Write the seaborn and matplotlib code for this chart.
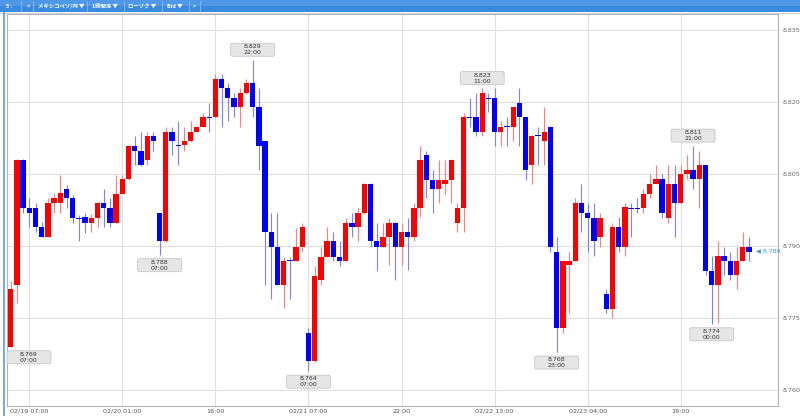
import numpy as np
import pandas as pd
import matplotlib
matplotlib.use("Agg")
import matplotlib.pyplot as plt
import seaborn as sns
from matplotlib.patches import FancyBboxPatch, Rectangle
from matplotlib.lines import Line2D
from matplotlib.transforms import IdentityTransform, blended_transform_factory

# ---------------- data ----------------
opens = [8.7691, 8.7819, 8.8080, 8.7980, 8.7980, 8.7941, 8.7920, 8.7990, 8.7990, 8.8020,
         8.8000, 8.7958, 8.7960, 8.7949, 8.7958, 8.7990, 8.7979, 8.7949, 8.8009, 8.8040,
         8.8109, 8.8099, 8.8080, 8.8130, 8.7969, 8.7910, 8.8139, 8.8110, 8.8110, 8.8119,
         8.8139, 8.8149, 8.8169, 8.8169, 8.8249, 8.8229, 8.8208, 8.8190, 8.8219, 8.8240,
         8.8190, 8.8119, 8.7929, 8.7899, 8.7819, 8.7870, 8.7870, 8.7899, 8.7719, 8.7660,
         8.7829, 8.7878, 8.7910, 8.7878, 8.7870, 8.7949, 8.7941, 8.7969, 8.8030, 8.7910,
         8.7899, 8.7920, 8.7949, 8.7899, 8.7929, 8.7920, 8.7979, 8.8090, 8.8038, 8.8019,
         8.8030, 8.8038, 8.7949, 8.7979, 8.8169, 8.8169, 8.8139, 8.8208, 8.8208, 8.8139,
         8.8149, 8.8149, 8.8199, 8.8169, 8.8069, 8.8130, 8.8119, 8.8149, 8.7889, 8.7730,
         8.7860, 8.7870, 8.7990, 8.7969, 8.7958, 8.7920, 8.7800, 8.7770, 8.7941, 8.7899,
         8.7979, 8.7979, 8.7979, 8.8009, 8.8030, 8.8040, 8.7958, 8.8030, 8.7990, 8.8050,
         8.8059, 8.8040, 8.8069, 8.7849, 8.7819, 8.7880, 8.7870, 8.7840, 8.7870, 8.7899]
highs = [8.7828, 8.8082, 8.8082, 8.8000, 8.7990, 8.7951, 8.8000, 8.8010, 8.8049, 8.8028,
         8.8007, 8.7965, 8.7969, 8.7967, 8.7993, 8.8019, 8.8000, 8.8049, 8.8049, 8.8110,
         8.8130, 8.8139, 8.8139, 8.8139, 8.7970, 8.8149, 8.8149, 8.8160, 8.8149, 8.8160,
         8.8150, 8.8178, 8.8199, 8.8258, 8.8258, 8.8240, 8.8219, 8.8229, 8.8249, 8.8288,
         8.8229, 8.8120, 8.7969, 8.7969, 8.7878, 8.7878, 8.7937, 8.7949, 8.7729, 8.7858,
         8.7899, 8.7941, 8.7929, 8.7910, 8.7958, 8.7969, 8.7979, 8.8031, 8.8031, 8.7948,
         8.7949, 8.7958, 8.7950, 8.7949, 8.7958, 8.7990, 8.8109, 8.8099, 8.8059, 8.8080,
         8.8080, 8.8081, 8.7990, 8.8178, 8.8208, 8.8219, 8.8229, 8.8219, 8.8229, 8.8160,
         8.8169, 8.8191, 8.8229, 8.8170, 8.8131, 8.8149, 8.8190, 8.8150, 8.7919, 8.7871,
         8.7889, 8.8000, 8.8030, 8.7990, 8.7990, 8.7969, 8.7810, 8.7949, 8.7960, 8.7990,
         8.7990, 8.8000, 8.8019, 8.8050, 8.8069, 8.8050, 8.8069, 8.8069, 8.8069, 8.8090,
         8.8109, 8.8099, 8.8070, 8.7880, 8.7910, 8.7899, 8.7889, 8.7899, 8.7929, 8.7920]
lows = [8.7690, 8.7781, 8.7970, 8.7941, 8.7929, 8.7920, 8.7919, 8.7969, 8.7969, 8.7979,
        8.7949, 8.7910, 8.7928, 8.7929, 8.7941, 8.7941, 8.7941, 8.7948, 8.8008, 8.8039,
        8.8069, 8.8068, 8.8069, 8.8099, 8.7882, 8.7909, 8.8090, 8.8069, 8.8099, 8.8118,
        8.8138, 8.8148, 8.8139, 8.8168, 8.8149, 8.8160, 8.8169, 8.8149, 8.8218, 8.8169,
        8.8059, 8.7819, 8.7790, 8.7819, 8.7771, 8.7790, 8.7869, 8.7889, 8.7639, 8.7659,
        8.7819, 8.7877, 8.7870, 8.7859, 8.7869, 8.7920, 8.7910, 8.7968, 8.7899, 8.7849,
        8.7898, 8.7861, 8.7830, 8.7861, 8.7851, 8.7910, 8.7960, 8.8000, 8.7969, 8.7990,
        8.8009, 8.7990, 8.7930, 8.7930, 8.8149, 8.8130, 8.8130, 8.8180, 8.8109, 8.8109,
        8.8109, 8.8120, 8.8109, 8.8038, 8.8030, 8.8069, 8.8069, 8.7889, 8.7679, 8.7720,
        8.7760, 8.7869, 8.7930, 8.7889, 8.7880, 8.7899, 8.7760, 8.7750, 8.7889, 8.7880,
        8.7920, 8.7969, 8.7969, 8.8000, 8.8029, 8.7958, 8.7949, 8.7920, 8.7989, 8.8040,
        8.8019, 8.7979, 8.7840, 8.7738, 8.7740, 8.7840, 8.7830, 8.7810, 8.7869, 8.7870]
closes = [8.7810, 8.8080, 8.7979, 8.7969, 8.7941, 8.7920, 8.7990, 8.8000, 8.8010, 8.8000,
          8.7958, 8.7956, 8.7949, 8.7958, 8.7990, 8.7979, 8.7949, 8.8009, 8.8040, 8.8109,
          8.8099, 8.8069, 8.8130, 8.8119, 8.7910, 8.8139, 8.8119, 8.8109, 8.8119, 8.8139,
          8.8149, 8.8169, 8.8168, 8.8249, 8.8229, 8.8208, 8.8190, 8.8219, 8.8240, 8.8190,
          8.8109, 8.7929, 8.7899, 8.7819, 8.7870, 8.7869, 8.7899, 8.7941, 8.7660, 8.7838,
          8.7878, 8.7910, 8.7878, 8.7870, 8.7949, 8.7941, 8.7969, 8.8030, 8.7910, 8.7899,
          8.7920, 8.7949, 8.7899, 8.7929, 8.7920, 8.7979, 8.8080, 8.8038, 8.8019, 8.8038,
          8.8038, 8.8080, 8.7979, 8.8169, 8.8168, 8.8139, 8.8219, 8.8207, 8.8139, 8.8149,
          8.8148, 8.8190, 8.8169, 8.8059, 8.8130, 8.8129, 8.8139, 8.7899, 8.7730, 8.7870,
          8.7870, 8.7990, 8.7969, 8.7958, 8.7910, 8.7958, 8.7770, 8.7941, 8.7899, 8.7981,
          8.7978, 8.7978, 8.8009, 8.8030, 8.8040, 8.7969, 8.8030, 8.7990, 8.8050, 8.8059,
          8.8040, 8.8069, 8.7849, 8.7819, 8.7880, 8.7870, 8.7840, 8.7870, 8.7899, 8.7889]

x_tick_pos = [3, 18, 33, 48, 63, 78, 93, 108]
x_tick_labels = ["02/19 07:00", "02/20 01:00", "16:00", "02/21 07:00",
                 "22:00", "02/22 13:00", "02/23 04:00", "19:00"]
y_ticks = [8.760, 8.775, 8.790, 8.805, 8.820, 8.835]

ann_idx = [0, 24, 39, 48, 76, 88, 110, 113]
ann_kind = ["low", "low", "high", "low", "high", "low", "high", "low"]
ann_time = ["07:00", "07:00", "22:00", "07:00", "11:00", "23:00", "21:00", "00:00"]

current_price = 8.789
toolbar_items = ["5 :", "<", "メキシコペソ/円 ▼", "1時間足 ▼", "ローソク ▼", "Bid ▼", ">"]

# ---------------- style ----------------
sns.set_theme(style="white")
plt.rcParams["font.family"] = ["DejaVu Sans", "Noto Sans CJK JP"]

W, H = 800, 416
fig = plt.figure(figsize=(W / 100, H / 100), dpi=100)
fig.patch.set_facecolor("white")

ax_l, ax_r, ax_t, ax_b = 7, 778, 14, 406
ax = fig.add_axes([ax_l / W, (H - ax_b) / H, (ax_r - ax_l) / W, (ax_b - ax_t) / H])
ax.set_facecolor("white")

df = pd.DataFrame({"i": np.arange(len(opens)), "open": opens, "high": highs,
                   "low": lows, "close": closes})
df["up"] = df["close"] >= df["open"]

body_col = np.where(df["up"], "#ff0000", "#0000ff")
wick_col = np.where(df["up"], "#ff7f7f", "#8080ff")

ax.vlines(df["i"], df["low"], df["high"], colors=wick_col, linewidth=0.8, zorder=2)
bottoms = np.minimum(df["open"], df["close"])
heights = np.maximum((df["close"] - df["open"]).abs(), 0.00022)
ax.bar(df["i"], heights, bottom=bottoms, width=0.86, color=body_col,
       linewidth=0, zorder=3)

ax.set_xlim(-0.595, 123.68)
ax.set_ylim(8.7567, 8.8384)
ax.set_xticks(x_tick_pos)
ax.set_xticklabels([])
ax.set_yticks(y_ticks)
ax.set_yticklabels([f"{v:.3f}" for v in y_ticks])
ax.yaxis.tick_right()
ax.tick_params(axis="y", which="both", length=0, pad=3, labelsize=4.6,
               labelcolor="#666666", labelright=True, labelleft=False)
ax.tick_params(axis="x", length=0)
ax.grid(True, color="#e0e0e0", linewidth=0.8, zorder=0)
ax.set_axisbelow(True)
for s in ["left", "right", "top", "bottom"]:
    ax.spines[s].set_visible(True)
    ax.spines[s].set_color("#b4b4b4")
    ax.spines[s].set_linewidth(0.8)

# x labels
fig.canvas.draw()
renderer = fig.canvas.get_renderer()
xt = blended_transform_factory(ax.transData, fig.transFigure)
for p, lab in zip(x_tick_pos, x_tick_labels):
    t = ax.text(p, 4.8 / H, lab, transform=xt, ha="center", va="center",
                fontsize=4.6, color="#555555")
    bb = t.get_window_extent(renderer)
    if bb.x0 < 5:
        t.set_ha("left")
        newx = ax.transData.inverted().transform((5, 0))[0]
        t.set_x(newx)

# high / low annotation boxes
bw, bh, gap = 44, 13, 3.8
for idx, kind, tm in zip(ann_idx, ann_kind, ann_time):
    val = highs[idx] if kind == "high" else lows[idx]
    px, py = ax.transData.transform((idx, val))
    x0 = min(max(px - bw / 2, ax_l), ax_r - bw)
    if kind == "high":
        y0 = py + gap
    else:
        y0 = py - gap - bh
    box = FancyBboxPatch((x0, y0), bw, bh, boxstyle="round,pad=0,rounding_size=2",
                         transform=IdentityTransform(), facecolor="#e6e6e6",
                         edgecolor="#c8c8c8", linewidth=0.6, zorder=5)
    fig.add_artist(box)
    cx = x0 + bw / 2
    cy = y0 + bh / 2
    fig.text(cx / W, (cy + 3.0) / H, f"{val:.3f}", ha="center", va="center",
             fontsize=4.5, color="#333333", zorder=6)
    fig.text(cx / W, (cy - 3.0) / H, tm, ha="center", va="center",
             fontsize=4.5, color="#333333", zorder=6)

# current price marker
pt = blended_transform_factory(fig.transFigure, ax.transData)
ax.text(756 / W, current_price, f"◀ {current_price:.3f}", transform=pt,
        ha="left", va="center", fontsize=4.6, color="#3a9ad9", clip_on=False)

# toolbar
fig.add_artist(Rectangle((0, 1 - 12 / H), 1, 12 / H, transform=fig.transFigure,
                         facecolor="#3a8be0", edgecolor="none", zorder=1))
fig.add_artist(Rectangle((0, 1 - 6 / H), 1, 6 / H, transform=fig.transFigure,
                         facecolor="#6aaaf0", edgecolor="none", zorder=1, alpha=0.45))
item_x = [6, 27, 38, 92, 128, 167, 193]
sep_x = [21, 33, 87, 124, 162, 189, 200]
for x, it in zip(item_x, toolbar_items):
    fig.text(x / W, 1 - 6.3 / H, it, ha="left", va="center", fontsize=3.9,
             fontweight="bold", color="white",
             family=["Noto Sans CJK JP", "DejaVu Sans"], zorder=3)
for x in sep_x:
    fig.add_artist(Line2D([x / W, x / W], [1 - 11 / H, 1 - 1 / H],
                          transform=fig.transFigure, color="#8dbdf0", linewidth=0.6))
# gray strip under toolbar
fig.add_artist(Line2D([0, 1], [1 - 13 / H, 1 - 13 / H], transform=fig.transFigure,
                      color="#cfcfcf", linewidth=0.8))
# blue panel border on left
fig.add_artist(Line2D([3.5 / W, 3.5 / W], [0, 1 - 12 / H], transform=fig.transFigure,
                      color="#5b9be0", linewidth=1.2))

fig.savefig("out.png", dpi=100)
